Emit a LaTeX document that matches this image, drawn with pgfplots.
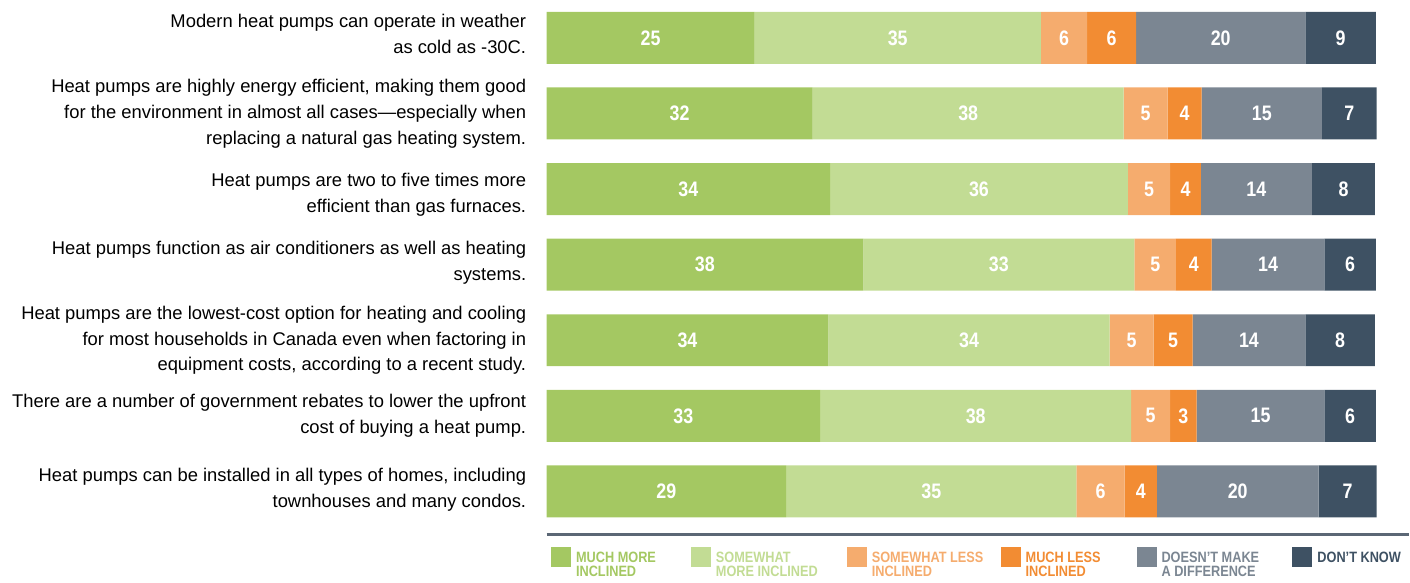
\documentclass[border=0pt]{standalone}
\usepackage{pgfplots}
\pgfplotsset{compat=1.18}
\usepackage{pgfplotstable}
\usepackage{fontspec}
\setmainfont{Liberation Sans}
\newfontfamily\cond[FakeStretch=0.85]{Liberation Sans}

\definecolor{c1}{HTML}{A4C862}
\definecolor{c2}{HTML}{C2DC94}
\definecolor{c3}{HTML}{F5AC6E}
\definecolor{c4}{HTML}{F28C33}
\definecolor{c5}{HTML}{7B8692}
\definecolor{c6}{HTML}{3E5163}
\definecolor{rule}{HTML}{5B6775}

% segment widths (share of bar) and the printed rounded values
\pgfplotstableread{
row a    b    c   d   e    f   la lb lc ld le lf
1   25.1 34.5 5.6 5.9 20.4 8.5 25 35 6  6  20 9
2   32.1 37.5 5.3 4.1 14.5 6.6 32 38 5  4  15 7
3   34.2 35.9 5.1 3.7 13.4 7.6 34 36 5  4  14 8
4   38.2 32.7 5.0 4.3 13.6 6.2 38 33 5  4  14 6
5   34.0 33.9 5.3 4.7 13.6 8.4 34 34 5  5  14 8
6   33.0 37.5 4.7 3.2 15.4 6.2 33 38 5  3  15 6
7   28.9 35.0 5.8 3.9 19.5 7.0 29 35 6  4  20 7
}\data

\newcommand{\leg}[3]{\addlegendentry{\parbox[t]{#1}{\color{#2}#3}}}

\begin{document}
\begin{tikzpicture}
\begin{axis}[
  scale only axis, width=415pt, height=264.85pt,
  xmin=0, xmax=100, ymin=0.5, ymax=7.5, y dir=reverse,
  xbar stacked, bar width=26pt,
  axis line style={draw=none}, tick style={draw=none},
  xtick=\empty, ytick={0.95,2,3.07,3.97,5,6,6.98},
  yticklabels={
    {Modern heat pumps can operate in weather\\as cold as -30C.},
    {Heat pumps are highly energy efficient, making them good\\for the environment in almost all cases—especially when\\replacing a natural gas heating system.},
    {Heat pumps are two to five times more\\efficient than gas furnaces.},
    {Heat pumps function as air conditioners as well as heating\\systems.},
    {Heat pumps are the lowest-cost option for heating and cooling\\for most households in Canada even when factoring in\\equipment costs, according to a recent study.},
    {There are a number of government rebates to lower the upfront\\cost of buying a heat pump.},
    {Heat pumps can be installed in all types of homes, including\\townhouses and many condos.}},
  yticklabel style={align=right, inner sep=0pt, xshift=-10pt,
    font=\fontsize{9.2}{13}\selectfont},
  clip=false,
  point meta=explicit symbolic,
  nodes near coords,
  nodes near coords style={font=\cond\bfseries\fontsize{10.5}{12}\selectfont,
    text=white, anchor=center},
  legend cell align=left,
  legend columns=6,
  legend style={at={(0.005,-0.032)}, anchor=north west, draw=none, fill=none,
    inner sep=0pt, column sep=0pt,
    nodes={inner sep=0pt, font=\cond\bfseries\fontsize{7.5}{7.2}\selectfont}},
  legend image code/.code={\fill[#1] (0pt,-6.5pt) rectangle (10pt,3.5pt);\path (12.5pt,0pt);},
]
\addplot[fill=c1, draw=none] table[x=a, y=row, meta=la] {\data};
\leg{57.5pt}{c1}{MUCH MORE\\INCLINED}
\addplot[fill=c2, draw=none] table[x=b, y=row, meta=lb] {\data};
\leg{65.5pt}{c2}{SOMEWHAT\\MORE INCLINED}
\addplot[fill=c3, draw=none] table[x=c, y=row, meta=lc] {\data};
\leg{64.5pt}{c3}{SOMEWHAT LESS\\INCLINED}
\addplot[fill=c4, draw=none] table[x=d, y=row, meta=ld] {\data};
\leg{55.5pt}{c4}{MUCH LESS\\INCLINED}
\addplot[fill=c5, draw=none] table[x=e, y=row, meta=le] {\data};
\leg{65.5pt}{c5}{DOESN’T MAKE\\A DIFFERENCE}
\addplot[fill=c6, draw=none] table[x=f, y=row, meta=lf] {\data};
\leg{44pt}{c6}{DON’T KNOW\\\mbox{}}
\draw[line width=1.2pt, rule] (axis cs:0,7.57) -- ++(431.5pt,0pt);
\path (axis cs:-65.9,0.511) rectangle (axis cs:103.98,8.2);
\end{axis}
\end{tikzpicture}
\end{document}
